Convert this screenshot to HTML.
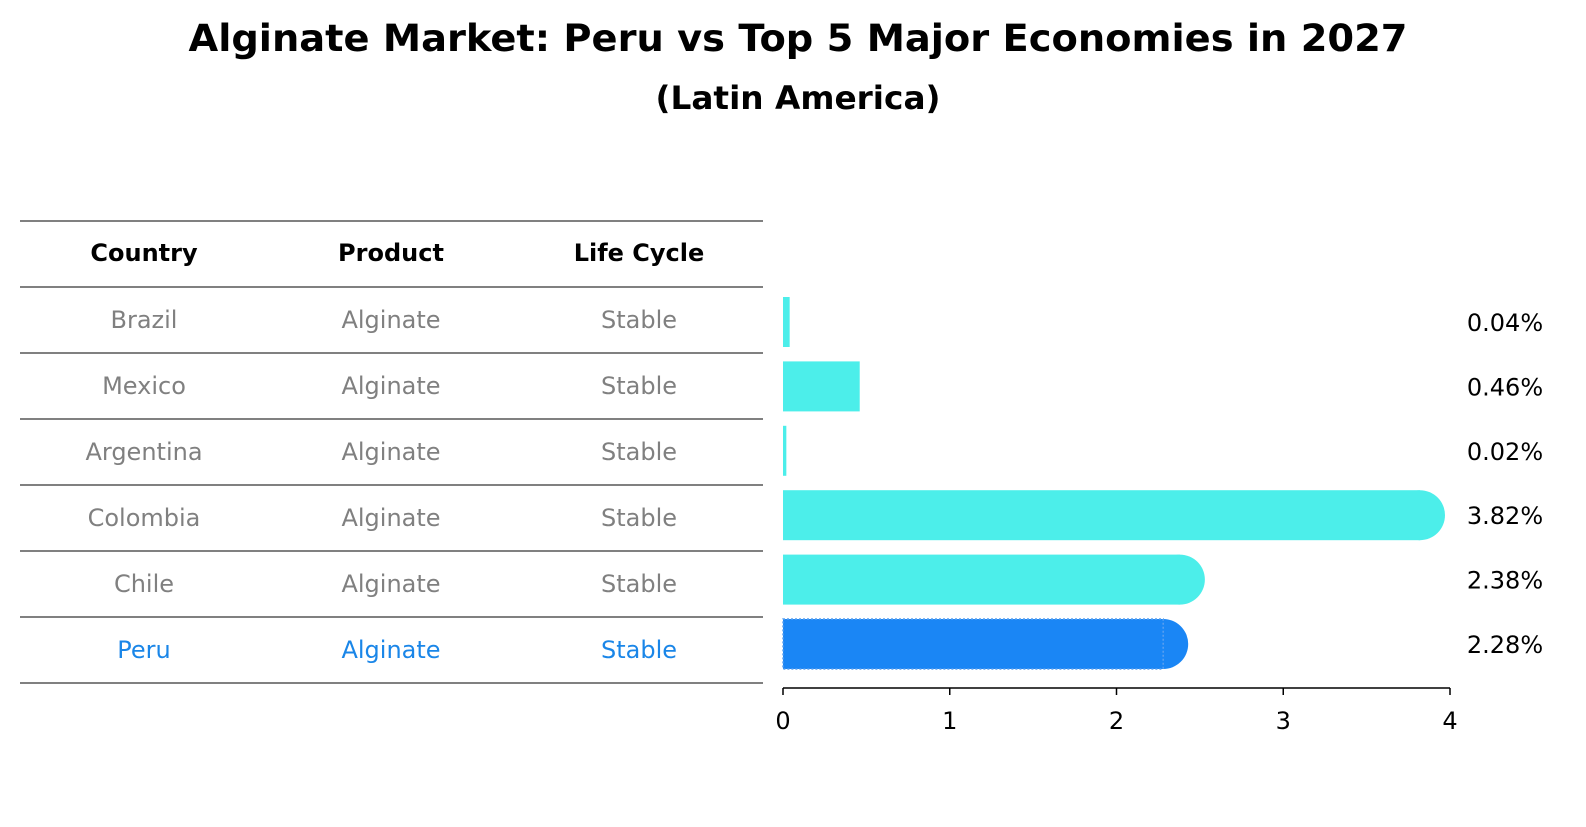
<!DOCTYPE html>
<html><head><meta charset="utf-8"><style>
html,body{margin:0;padding:0;background:#fff;}
body{width:1586px;height:823px;position:relative;font-family:"DejaVu Sans","Liberation Sans",sans-serif;overflow:hidden;}
</style></head><body>
<svg id="chart" width="1586" height="823" xmlns="http://www.w3.org/2000/svg" font-family="DejaVu Sans, Liberation Sans, sans-serif">
<text x="798" y="51" text-anchor="middle" font-size="37" font-weight="bold" textLength="1219" lengthAdjust="spacingAndGlyphs">Alginate Market: Peru vs Top 5 Major Economies in 2027</text>
<text x="798" y="109" text-anchor="middle" font-size="32" font-weight="bold" textLength="285" lengthAdjust="spacingAndGlyphs">(Latin America)</text>
<g id="table"></g>
<g id="bars"></g>
<g id="axis"></g>
</svg>
<script>
const countries=["Brazil","Mexico","Argentina","Colombia","Chile","Peru"];
const products=["Alginate","Alginate","Alginate","Alginate","Alginate","Alginate"];
const lifeCycles=["Stable","Stable","Stable","Stable","Stable","Stable"];
const values=[0.04,0.46,0.02,3.82,2.38,2.28];
const valueLabels=["0.04%","0.46%","0.02%","3.82%","2.38%","2.28%"];
const xTicks=[0,1,2,3,4];
const headers=["Country","Product","Life Cycle"];

const NS="http://www.w3.org/2000/svg";
function mk(tag,attrs,parent){const e=document.createElementNS(NS,tag);for(const k in attrs)e.setAttribute(k,attrs[k]);parent.appendChild(e);return e;}
const x0=783,x1=1450,xMax=4;
const xs=v=>x0+(v/xMax)*(x1-x0);
const rowTop=287,rowH=66;
const ys=i=>rowTop+i*rowH;
const barC=i=>322+i*64.4;
const FS=24;
const table=document.getElementById('table'),bars=document.getElementById('bars'),axis=document.getElementById('axis');
const colX=[144,391,639];
for(let i=0;i<=countries.length+1;i++){
  const y=i===0?221:ys(i-1);
  const l=mk('line',{x1:20,x2:763,y1:y,y2:y,stroke:'#000','stroke-width':1},table);
  
  
}
headers.forEach((h,j)=>{
  const t=mk('text',{x:colX[j],y:261,'text-anchor':'middle','font-size':FS,'font-weight':'bold'},table);
  t.textContent=h;
  
  
});
countries.forEach((c,i)=>{
  const last=i===countries.length-1;
  const col=last?'#1a86e8':'#808080';
  const cy=ys(i)+rowH/2+8;
  [c,products[i],lifeCycles[i]].forEach((v,j)=>{
    const t=mk('text',{x:colX[j],y:cy,'text-anchor':'middle','font-size':FS,fill:col},table);
    t.textContent=v;
    
    
  });
  const bh=50,by=barC(i)-bh/2;
  const w=xs(values[i])-x0;
  const fill=last?'#1a86f5':'#4ceeea';
  const g=mk('g',{},bars);
  
  
  mk('rect',{x:x0,y:by,width:Math.max(w,1),height:bh,fill:fill},g);
  if(values[i]>1){mk('circle',{cx:x0+w,cy:by+bh/2,r:bh/2,fill:fill},g);}
  if(last){mk('rect',{x:x0,y:by,width:w,height:bh,fill:'none',stroke:'#5aa0f0','stroke-width':1.5,'stroke-dasharray':'2,2'},g);}
  const t=mk('text',{x:1505,y:barC(i)+9,'text-anchor':'middle','font-size':FS},bars);
  t.textContent=valueLabels[i];
  
  
});
mk('line',{x1:x0,x2:x1,y1:688,y2:688,stroke:'#000','stroke-width':1.5},axis);
xTicks.forEach(v=>{
  mk('line',{x1:xs(v),x2:xs(v),y1:688,y2:695,stroke:'#000','stroke-width':1.5},axis);
  const t=mk('text',{x:xs(v),y:729,'text-anchor':'middle','font-size':FS},axis);
  t.textContent=v;
  
  
});
</script>
</body></html>
